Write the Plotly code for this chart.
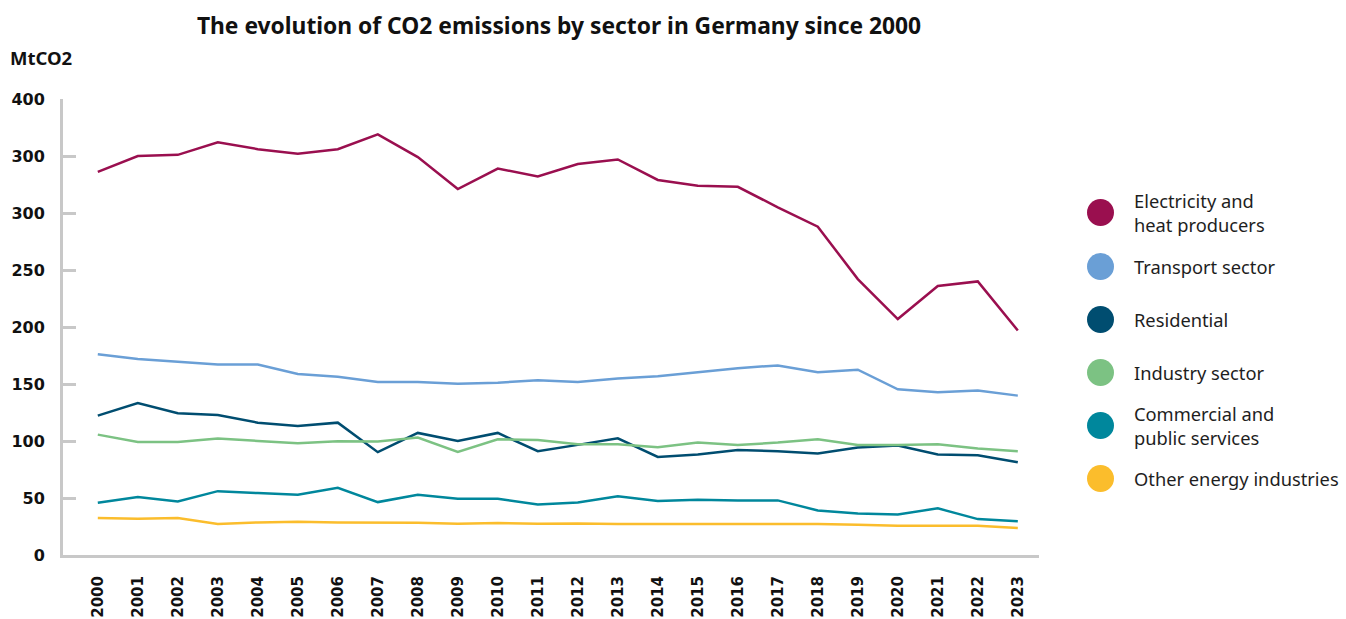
import plotly.graph_objects as go

years = ["2000", "2001", "2002", "2003", "2004", "2005", "2006", "2007", "2008", "2009",
         "2010", "2011", "2012", "2013", "2014", "2015", "2016", "2017", "2018", "2019",
         "2020", "2021", "2022", "2023"]

electricity = [336, 350, 351, 362, 356, 352, 356, 369, 349, 321,
               339, 332, 343, 347, 329, 324, 323, 305, 288, 242,
               207, 236, 240, 197]
transport = [176, 172, 169.5, 167, 167, 158.7, 156.4, 151.7, 151.7, 150.3,
             151.2, 153.2, 151.7, 154.9, 156.9, 160.4, 163.9, 166.3, 160.4, 162.5,
             145.3, 142.7, 144.2, 139.8]
residential = [122.3, 133.3, 124.3, 122.8, 116.1, 113.2, 116.1, 90.2, 107.1, 100.1,
               107.1, 91, 96.6, 102.4, 86, 88.1, 92.2, 91, 89, 94.3,
               96, 88.1, 87.5, 81.4]
industry = [105.6, 99.2, 99.2, 102.1, 100.1, 98, 99.8, 99.5, 103, 90.4,
            101.5, 100.9, 97.2, 97.2, 94.5, 98.6, 96.6, 98.6, 101.5, 96.6,
            96.6, 97.2, 93.4, 91]
commercial = [45.8, 50.8, 47, 56, 54.3, 52.8, 58.9, 46.4, 52.8, 49.3,
              49.3, 44.4, 46.1, 51.6, 47.3, 48.4, 47.9, 47.9, 39.1, 36.5,
              35.6, 40.9, 31.5, 29.5]
other_energy = [32.4, 31.8, 32.4, 27.1, 28.6, 29.2, 28.6, 28.6, 28.3, 27.4,
                28, 27.4, 27.7, 27.1, 27.1, 27.7, 27.7, 27.7, 27.1, 26.5,
                25.7, 25.7, 25.7, 23.6]

series_names = ["Electricity and<br>heat producers", "Transport sector", "Residential",
                "Industry sector", "Commercial and<br>public services", "Other energy industries"]
series_values = [electricity, transport, residential, industry, commercial, other_energy]
series_colors = ["#9a0f4f", "#6a9fd6", "#004d70", "#7cc283", "#00879c", "#fbbd2c"]

y_tick_values = [0, 50, 100, 150, 200, 250, 300, 350, 400]
y_tick_labels = ["0", "50", "100", "150", "200", "250", "300", "300", "400"]

fig = go.Figure()
for name, vals, col in zip(series_names, series_values, series_colors):
    fig.add_trace(go.Scatter(x=years, y=vals, mode="lines", name=name.replace("<br>", " "),
                             line=dict(color=col, width=2.5), showlegend=False))

# Custom legend (large circles)
legend_y_px = [212.5, 266.5, 319.5, 372.5, 425.5, 478.5]
plot_top, plot_h = 99, 456
shapes = []
annotations = []
for name, col, py in zip(series_names, series_colors, legend_y_px):
    yp = 1 - (py - plot_top) / plot_h
    shapes.append(dict(type="circle", xref="paper", yref="paper", xsizemode="pixel", ysizemode="pixel",
                       xanchor=1.0, yanchor=yp, x0=48, x1=75, y0=-13.5, y1=13.5,
                       fillcolor=col, line=dict(width=0)))
    annotations.append(dict(text=name, xref="paper", yref="paper", x=1.0, y=yp, xshift=93,
                            xanchor="left", yanchor="middle", align="left", showarrow=False,
                            font=dict(family="Noto Sans", size=18.3, color="#1e1e1e")))

annotations.append(dict(text="<b>MtCO2</b>", xref="paper", yref="paper", x=0, y=1,
                        xshift=-55, yshift=42, xanchor="left", yanchor="middle", showarrow=False,
                        font=dict(family="Noto Sans", size=18.5, color="#111")))

fig.update_layout(
    width=1346, height=619,
    margin=dict(l=63, r=307, t=99, b=64, autoexpand=False),
    paper_bgcolor="white", plot_bgcolor="white",
    title=dict(text="<b>The evolution of CO2 emissions by sector in Germany since 2000</b>",
               x=559 / 1346, xanchor="center", y=1 - 26 / 619, yanchor="middle",
               font=dict(family="Noto Sans", size=22.8, color="#111")),
    shapes=shapes, annotations=annotations,
    showlegend=False,
)
fig.update_xaxes(type="category", range=[-0.87, 23.53], showgrid=False, zeroline=False,
                 automargin=False,
                 showline=True, linecolor="#c8c8c8", linewidth=3, ticks="",
                 tickangle=-90, ticklabelstandoff=12,
                 tickfont=dict(family="DejaVu Sans", size=15, color="#111", weight="bold"))
fig.update_yaxes(range=[0, 400], tickvals=y_tick_values, ticktext=y_tick_labels,
                 automargin=False,
                 showgrid=False, zeroline=False, showline=True, linecolor="#c8c8c8", linewidth=3,
                 ticks="inside", ticklen=13, tickwidth=2.5, tickcolor="#c8c8c8",
                 ticklabelstandoff=12,
                 tickfont=dict(family="DejaVu Sans", size=16, color="#111", weight="bold"))

fig.write_html("out.html")
